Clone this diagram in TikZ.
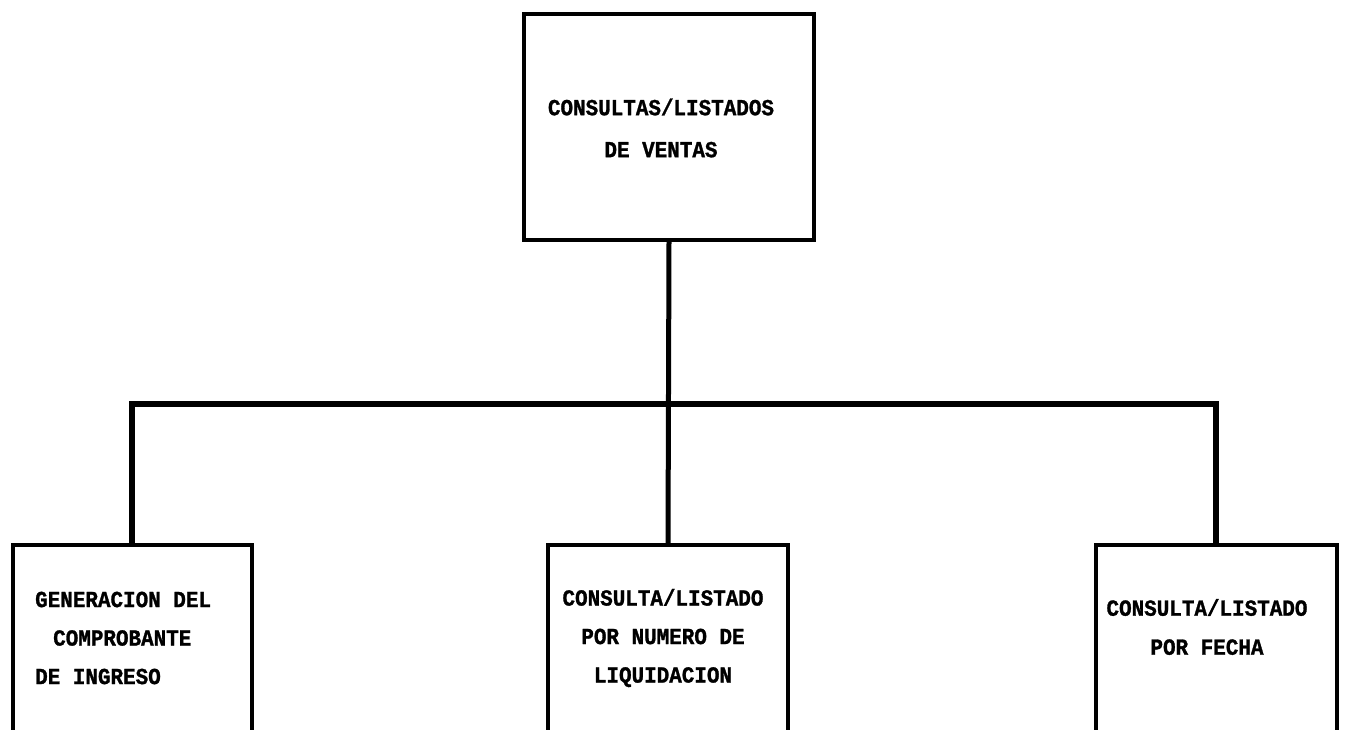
\documentclass[tikz,border=0pt]{standalone}
\usepackage{fontspec}
\setmonofont{Liberation Mono}[FakeStretch=0.91,FakeBold=1.2]
\begin{document}
\begin{tikzpicture}[x=1pt,y=-1pt,
  box/.style={draw=black,line width=4pt,inner sep=0pt,rectangle},
  conn/.style={draw=black,line width=5pt},
  txt/.style={inner sep=0pt,font=\ttfamily\bfseries\fontsize{23}{38.5}\selectfont}]
\clip (0,0) rectangle (1345,729);
\fill[white] (0,0) rectangle (1345,729);
% boxes
\node[box,minimum width=290pt,minimum height=226pt] (top) at (669,127) {};
\node[box,minimum width=239pt,minimum height=240pt] (left) at (132,665) {};
\node[box,minimum width=240pt,minimum height=240pt] (mid) at (668,665) {};
\node[box,minimum width=241pt,minimum height=240pt] (right) at (1216,665) {};
% texts
\node[txt,align=center,font=\ttfamily\bfseries\fontsize{23}{42}\selectfont] (ttop) at (661,128) {CONSULTAS/LISTADOS\\DE VENTAS};
\node[txt,align=left,anchor=west] (tleft) at (35,638) {GENERACION DEL\\\hspace*{18pt}COMPROBANTE\\DE INGRESO};
\node[txt,align=center] (tmid) at (663,638) {CONSULTA/LISTADO\\POR NUMERO DE\\LIQUIDACION};
\node[txt,align=center,font=\ttfamily\bfseries\fontsize{23}{39}\selectfont] (tright) at (1207,627) {CONSULTA/LISTADO\\POR FECHA};
% connectors
\coordinate (bus) at (668,404);
\draw[conn] (top.south) -- (mid.north);
\draw[conn,line width=5.5pt] (left.north) |- (bus) -| (right.north);
\end{tikzpicture}
\end{document}
